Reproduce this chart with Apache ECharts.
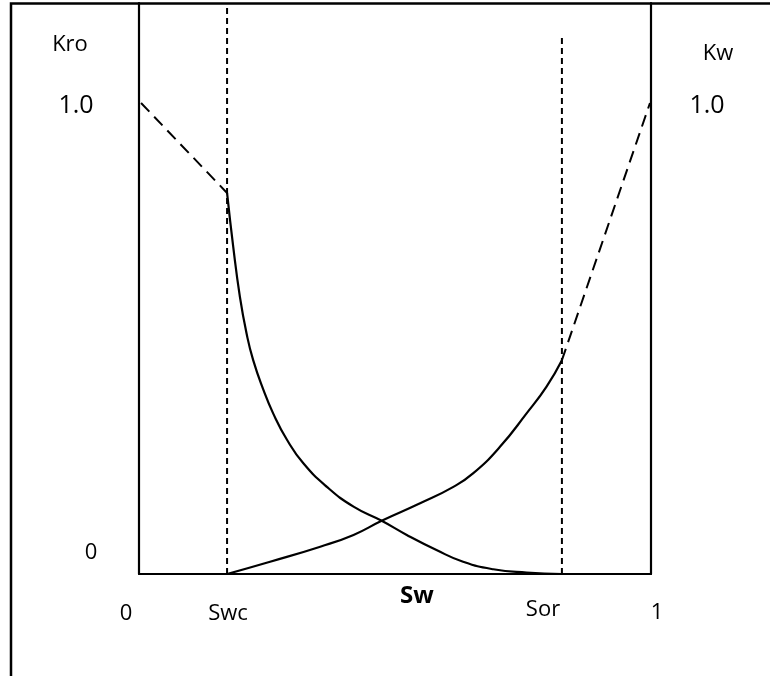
<!DOCTYPE html>
<html>
<head>
<meta charset="utf-8">
<script src="https://cdn.jsdelivr.net/npm/echarts@6/dist/echarts.min.js"></script>
<style>
html,body{margin:0;padding:0;background:#fff;}
#c{width:770px;height:676px;}
</style>
</head>
<body>
<div id="c"></div>
<script>
// ---- data ----
const swc = 0.172;
const sor = 0.826;
const kroSolid = [[0.172,0.809],[0.184,0.695],[0.197,0.589],[0.210,0.511],[0.223,0.454],[0.243,0.391],[0.262,0.341],[0.289,0.285],[0.321,0.235],[0.367,0.185],[0.419,0.143],[0.474,0.113],[0.523,0.083],[0.581,0.051],[0.633,0.026],[0.692,0.010],[0.757,0.003],[0.826,0.0]];
const kroDash = [[0.004,1.0],[0.172,0.809]];
const kwSolid = [[0.172,0.0],[0.256,0.026],[0.354,0.058],[0.419,0.083],[0.474,0.113],[0.549,0.150],[0.614,0.185],[0.653,0.214],[0.705,0.270],[0.757,0.341],[0.796,0.398],[0.826,0.454]];
const kwDash = [[0.826,0.454],[0.998,1.0]];
const swcLine = [[0.172,0],[0.172,1.2123]];
const sorLine = [[0.826,0],[0.826,1.144]];
const yMax = 1.2123;

const font = '"Open Sans", sans-serif';
function txt(x, y, s, size, bold) {
  return {type:'text', x:x, y:y, style:{text:s, fill:'#000', font:(bold?'bold ':'')+size+'px '+font, textAlign:'center', textVerticalAlign:'middle'}};
}

const chart = echarts.init(document.getElementById('c'), null, {renderer:'canvas'});
const lineStyle = {color:'#000', width:2.2};
chart.setOption({
  animation:false,
  backgroundColor:'#fff',
  grid:{left:139, right:119, top:3, bottom:102},
  xAxis:{type:'value', min:0, max:1, axisLine:{show:true, onZero:false, lineStyle:{color:'#000', width:2.2}}, axisTick:{show:false}, axisLabel:{show:false}, splitLine:{show:false}},
  yAxis:[
    {type:'value', min:0, max:yMax, position:'left', axisLine:{show:true, onZero:false, lineStyle:{color:'#000', width:2.2}}, axisTick:{show:false}, axisLabel:{show:false}, splitLine:{show:false}},
    {type:'value', min:0, max:yMax, position:'right', axisLine:{show:true, onZero:false, lineStyle:{color:'#000', width:2.2}}, axisTick:{show:false}, axisLabel:{show:false}, splitLine:{show:false}}
  ],
  series:[
    {type:'line', data:swcLine, symbol:'none', lineStyle:{color:'#000', width:2, type:[6,4]}},
    {type:'line', data:sorLine, symbol:'none', lineStyle:{color:'#000', width:2, type:[6,4]}},
    {type:'line', data:kroDash, symbol:'none', lineStyle:{color:'#000', width:2, type:[12,7]}},
    {type:'line', data:kwDash, symbol:'none', lineStyle:{color:'#000', width:2, type:[12,7]}},
    {type:'line', data:kroSolid, symbol:'none', smooth:0.5, lineStyle:lineStyle},
    {type:'line', data:kwSolid, symbol:'none', smooth:0.5, lineStyle:lineStyle}
  ],
  graphic:[
    {type:'rect', shape:{x:11, y:3.5, width:800, height:700}, style:{fill:null, stroke:'#000', lineWidth:2.5}},
    txt(70, 45, 'Kro', 22),
    txt(76, 106, '1.0', 25),
    txt(718, 54, 'Kw', 22),
    txt(707, 106, '1.0', 25),
    txt(91, 553, '0', 22),
    txt(126, 614, '0', 22),
    txt(228, 614, 'Swc', 22),
    txt(417, 596, 'Sw', 24, true),
    txt(543, 610, 'Sor', 22),
    txt(657, 613, '1', 22)
  ]
});
</script>
</body>
</html>
